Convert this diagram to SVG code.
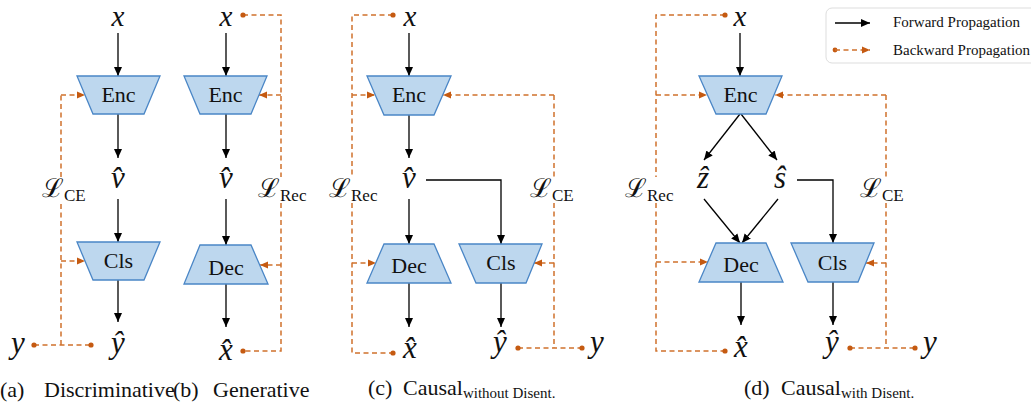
<svg xmlns="http://www.w3.org/2000/svg" width="1031" height="405" viewBox="0 0 1031 405">
<defs>
<marker id="ah" markerUnits="userSpaceOnUse" markerWidth="10" markerHeight="10" viewBox="0 0 10 10" refX="9" refY="5" orient="auto"><path d="M0,1 L9,5 L0,9 z" fill="#000"/></marker>
<marker id="oh" markerUnits="userSpaceOnUse" markerWidth="9" markerHeight="9" viewBox="0 0 10 10" refX="9" refY="5" orient="auto"><path d="M0,1 L9,5 L0,9 z" fill="#C55A11"/></marker>
</defs>
<style>
.blk{fill:#BDD7EE;stroke:#4A86C6;stroke-width:1.3}
.bt{font-family:'Liberation Serif','Times New Roman',serif;font-size:22px;text-anchor:middle;fill:#111}
.m{font-family:'Liberation Serif','Times New Roman',serif;font-style:italic;font-size:31px;text-anchor:middle;fill:#111}
.mt{font-family:'Liberation Serif','Times New Roman',serif;font-style:italic;font-size:29px;text-anchor:middle;fill:#111}
.L{font-family:'Liberation Serif','DejaVu Serif',serif;font-size:26px;fill:#111}
.sub{font-family:'Liberation Serif',serif;font-size:17px;font-style:normal}
.fw{fill:none;stroke:#000;stroke-width:1.3;marker-end:url(#ah)}
.bw{fill:none;stroke:#D0712C;stroke-width:1.5;stroke-dasharray:5 3.5}
.bwa{fill:none;stroke:#D0712C;stroke-width:1.5;stroke-dasharray:5 3.5;marker-end:url(#oh)}
.dot{fill:#C55A11}
.cap{font-family:'Liberation Serif','Times New Roman',serif;font-size:22px;fill:#111}
.capsub{font-size:15px}
.lg{font-family:'Liberation Serif','Times New Roman',serif;font-size:15px;fill:#111}
</style>

<g id="connectors">
<path class="fw" d="M118,33 V76"/>
<path class="fw" d="M118,114 V158"/>
<path class="fw" d="M118,199 V242"/>
<path class="fw" d="M118,280 V322"/>
<path class="bw" d="M34,345 H91"/>
<path class="bw" d="M61,345 V203"/>
<path class="bw" d="M61,177 V95"/>
<path class="bwa" d="M61,95 H85"/>
<path class="bwa" d="M61,261 H85"/>
<path class="fw" d="M226,33 V76"/>
<path class="fw" d="M226,114 V158"/>
<path class="fw" d="M226,199 V245"/>
<path class="fw" d="M226,284 V327"/>
<path class="bw" d="M243,15 H281 V177"/>
<path class="bw" d="M281,203 V351 H243"/>
<path class="bwa" d="M281,95 H259"/>
<path class="bwa" d="M281,265 H260"/>
<path class="fw" d="M409,33 V76"/>
<path class="fw" d="M409,115 V158"/>
<path class="fw" d="M409,199 V244"/>
<path class="fw" d="M409,283 V327"/>
<path class="fw" d="M426,180 H501 V244"/>
<path class="fw" d="M501,283 V327"/>
<path class="bw" d="M393,15 H352 V177"/>
<path class="bw" d="M352,203 V353 H393"/>
<path class="bwa" d="M352,95 H375"/>
<path class="bwa" d="M352,263 H376"/>
<path class="bw" d="M554,95 V177"/>
<path class="bw" d="M554,203 V348"/>
<path class="bw" d="M518,348 H582"/>
<path class="bwa" d="M554,95 H443"/>
<path class="bwa" d="M554,263 H534"/>
<path class="fw" d="M740,33 V76"/>
<path class="fw" d="M740,114 L704,160"/>
<path class="fw" d="M741,114 L777,160"/>
<path class="fw" d="M704,199 L740,243"/>
<path class="fw" d="M778,199 L742,243"/>
<path class="fw" d="M797,180 H833 V243"/>
<path class="fw" d="M741,282 V325"/>
<path class="fw" d="M833,282 V325"/>
<path class="bw" d="M725,15 H656 V177"/>
<path class="bw" d="M656,203 V351 H725"/>
<path class="bwa" d="M656,95 H707"/>
<path class="bwa" d="M656,262 H708"/>
<path class="bw" d="M886,95 V178"/>
<path class="bw" d="M886,203 V348"/>
<path class="bw" d="M850,348 H915"/>
<path class="bwa" d="M886,95 H775"/>
<path class="bwa" d="M886,263 H866"/>
<circle class="dot" cx="34" cy="345" r="2.6"/>
<circle class="dot" cx="91" cy="345" r="2.6"/>
<circle class="dot" cx="243" cy="15" r="2.6"/>
<circle class="dot" cx="243" cy="351" r="2.6"/>
<circle class="dot" cx="393" cy="15" r="2.6"/>
<circle class="dot" cx="393" cy="353" r="2.6"/>
<circle class="dot" cx="518" cy="348" r="2.6"/>
<circle class="dot" cx="582" cy="348" r="2.6"/>
<circle class="dot" cx="725" cy="15" r="2.6"/>
<circle class="dot" cx="725" cy="351" r="2.6"/>
<circle class="dot" cx="850" cy="348" r="2.6"/>
<circle class="dot" cx="915" cy="348" r="2.6"/>
</g>

<g id="a-x"><text class="mt" x="118" y="26">x</text></g>
<g id="a-enc"><polygon class="blk" points="77,76 160,76 144,114 93,114"/><text class="bt" x="118.5" y="102">Enc</text></g>
<g id="a-vhat"><text class="m" x="118" y="188">v̂</text></g>
<g id="a-cls"><polygon class="blk" points="77,242 160,242 144,280 93,280"/><text class="bt" x="118.5" y="268">Cls</text></g>
<g id="a-yhat"><text class="m" x="118" y="353">ŷ</text></g>
<g id="a-y"><text class="m" x="18" y="353">y</text></g>
<g id="a-lce"><text class="L" x="42" y="197">ℒ<tspan class="sub" dy="4">CE</tspan></text></g>

<g id="b-x"><text class="mt" x="226" y="26">x</text></g>
<g id="b-enc"><polygon class="blk" points="184,76 267,76 251,114 200,114"/><text class="bt" x="225.5" y="102">Enc</text></g>
<g id="b-vhat"><text class="m" x="226" y="188">v̂</text></g>
<g id="b-dec"><polygon class="blk" points="200,245 251,245 268,284 184,284"/><text class="bt" x="226" y="275">Dec</text></g>
<g id="b-xhat"><text class="m" x="226" y="360">x̂</text></g>
<g id="b-lrec"><text class="L" x="258" y="197">ℒ<tspan class="sub" dy="4">Rec</tspan></text></g>

<g id="c-x"><text class="mt" x="410" y="26">x</text></g>
<g id="c-enc"><polygon class="blk" points="367,76 451,76 434,115 384,115"/><text class="bt" x="409" y="102">Enc</text></g>
<g id="c-vhat"><text class="m" x="409" y="188">v̂</text></g>
<g id="c-dec"><polygon class="blk" points="384,244 434,244 451,283 367,283"/><text class="bt" x="409" y="273">Dec</text></g>
<g id="c-cls"><polygon class="blk" points="459,244 542,244 526,283 476,283"/><text class="bt" x="501" y="270">Cls</text></g>
<g id="c-xhat"><text class="m" x="410" y="358">x̂</text></g>
<g id="c-yhat"><text class="m" x="500" y="352">ŷ</text></g>
<g id="c-y"><text class="m" x="597" y="352">y</text></g>
<g id="c-lrec"><text class="L" x="329" y="197">ℒ<tspan class="sub" dy="4">Rec</tspan></text></g>
<g id="c-lce"><text class="L" x="530" y="197">ℒ<tspan class="sub" dy="4">CE</tspan></text></g>

<g id="d-x"><text class="mt" x="740" y="26">x</text></g>
<g id="d-enc"><polygon class="blk" points="699,76 782,76 766,114 716,114"/><text class="bt" x="740.5" y="102">Enc</text></g>
<g id="d-zhat"><text class="m" x="703" y="188">ẑ</text></g>
<g id="d-shat"><text class="m" x="780" y="188">ŝ</text></g>
<g id="d-dec"><polygon class="blk" points="716,243 766,243 783,282 699,282"/><text class="bt" x="741" y="272">Dec</text></g>
<g id="d-cls"><polygon class="blk" points="791,243 874,243 858,282 808,282"/><text class="bt" x="832.5" y="270">Cls</text></g>
<g id="d-xhat"><text class="m" x="741" y="357">x̂</text></g>
<g id="d-yhat"><text class="m" x="832" y="352">ŷ</text></g>
<g id="d-y"><text class="m" x="930" y="352">y</text></g>
<g id="d-lrec"><text class="L" x="625" y="197">ℒ<tspan class="sub" dy="4">Rec</tspan></text></g>
<g id="d-lce"><text class="L" x="860" y="197">ℒ<tspan class="sub" dy="4">CE</tspan></text></g>

<g id="legend">
<rect x="826" y="8" width="230" height="55" rx="6" fill="#fff" stroke="#DDD" stroke-width="1"/>
<path class="fw" d="M835,23 H870"/>
<text class="lg" x="893" y="27">Forward Propagation</text>
<circle class="dot" cx="835" cy="50" r="2.4"/>
<path class="bwa" d="M835,50 H870"/>
<text class="lg" x="893" y="55">Backward Propagation</text>
</g>

<g id="captions">
<text class="cap" x="0" y="397">(a)</text>
<text class="cap" x="44" y="397">Discriminative</text>
<text class="cap" x="173" y="397">(b)</text>
<text class="cap" x="213" y="397">Generative</text>
<text class="cap" x="368" y="395">(c)</text>
<text class="cap" x="403" y="395">Causal<tspan class="capsub" dy="3">without Disent.</tspan></text>
<text class="cap" x="744" y="395">(d)</text>
<text class="cap" x="781" y="395">Causal<tspan class="capsub" dy="3">with Disent.</tspan></text>
</g>
</svg>
